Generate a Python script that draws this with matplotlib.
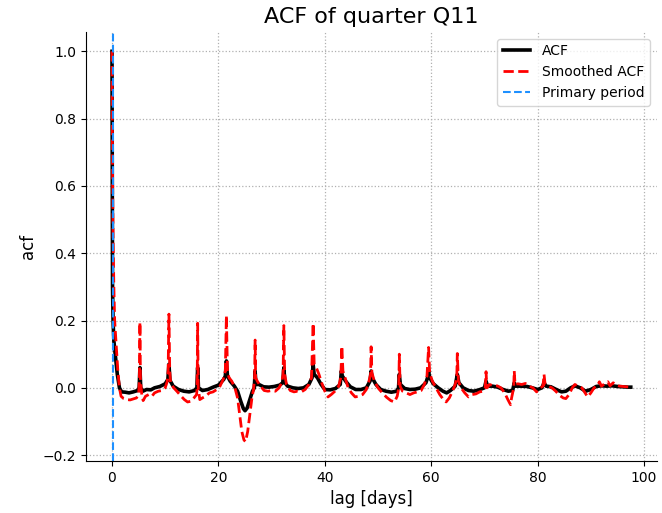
import numpy as np
import matplotlib
matplotlib.use('Agg')
import matplotlib.pyplot as plt

# ACF values (lag in days)
acf_lag = [0.0, 0.05, 0.1, 0.2, 0.35, 0.6, 1.0, 1.4, 1.8, 2.5, 3.2, 4.0, 4.8, 5.1, 5.25, 5.4, 5.8, 6.5, 7.3, 8.0,
           9.0, 10.0, 10.5, 10.7, 10.9, 11.5, 12.5, 13.5, 14.5, 15.5, 15.95, 16.1, 16.25, 17.0, 18.0, 19.0, 20.0,
           21.0, 21.3, 21.5, 21.7, 22.2, 23.0, 23.6, 24.2, 24.7, 25.0, 25.4, 25.9, 26.4, 26.75, 26.9, 27.05, 27.6,
           28.5, 29.5, 30.5, 31.5, 32.1, 32.3, 32.5, 33.0, 34.0, 35.0, 36.0, 37.0, 37.6, 37.8, 38.0, 38.6, 39.3,
           40.0, 41.0, 42.0, 42.9, 43.1, 43.3, 43.9, 44.8, 45.8, 46.8, 47.8, 48.5, 48.7, 48.9, 49.6, 50.5, 51.5,
           52.5, 53.5, 53.85, 54.0, 54.2, 55.0, 56.0, 57.0, 58.0, 59.0, 59.3, 59.5, 59.7, 60.4, 61.3, 62.2, 62.9,
           63.6, 64.5, 64.9, 65.2, 66.0, 67.0, 68.0, 69.0, 70.0, 70.3, 70.6, 71.5, 72.5, 73.5, 74.5, 75.3, 75.6,
           75.9, 76.8, 78.0, 79.0, 80.0, 80.8, 81.2, 81.6, 82.5, 83.5, 84.5, 85.3, 86.2, 87.0, 88.0, 89.0, 90.0,
           91.0, 92.0, 93.0, 94.0, 95.0, 96.0, 97.0, 97.5]
acf_val = [1.0, 0.60, 0.30, 0.20, 0.14, 0.10, 0.04, 0.0, -0.012, -0.013, -0.015, -0.012, -0.008, 0.0, 0.06, 0.0,
           -0.01, -0.005, -0.006, 0.0, 0.004, 0.012, 0.025, 0.07, 0.022, 0.005, -0.005, -0.01, -0.012, -0.008, 0.0,
           0.06, 0.0, -0.008, -0.005, 0.002, 0.008, 0.025, 0.035, 0.08, 0.035, 0.02, 0.005, -0.01, -0.04, -0.062,
           -0.068, -0.06, -0.035, -0.01, 0.0, 0.05, 0.01, 0.01, 0.003, 0.002, 0.004, 0.008, 0.015, 0.06, 0.015,
           0.005, 0.0, -0.002, 0.0, 0.01, 0.03, 0.07, 0.04, 0.03, 0.01, -0.005, -0.006, -0.002, 0.01, 0.05, 0.035,
           0.02, 0.003, -0.005, -0.005, 0.0, 0.02, 0.05, 0.03, 0.01, -0.005, -0.01, -0.013, -0.01, 0.0, 0.04, 0.01,
           -0.002, -0.005, -0.004, 0.0, 0.015, 0.03, 0.05, 0.03, 0.012, 0.0, -0.01, -0.015, -0.008, 0.005, 0.04,
           0.015, 0.0, -0.008, -0.01, -0.006, 0.0, 0.02, 0.005, 0.005, 0.002, -0.005, -0.01, -0.008, 0.015, 0.005,
           0.005, 0.004, 0.0, -0.005, 0.0, 0.015, 0.005, 0.003, -0.005, -0.012, -0.01, 0.0, 0.006, 0.0, -0.01,
           -0.005, 0.004, 0.006, 0.005, 0.006, 0.004, 0.003, 0.002, 0.002]

# smoothed ACF
smooth_lag = [0.0, 0.1, 0.2, 0.35, 0.5, 0.7, 0.9, 1.1, 1.4, 1.7, 2.2, 2.8, 3.4, 4.0, 4.6, 5.0, 5.15, 5.25, 5.35,
              5.6, 5.85, 6.3, 6.9, 7.5, 8.0, 8.7, 9.4, 10.0, 10.4, 10.55, 10.7, 10.85, 11.0, 11.6, 12.3, 13.0,
              13.6, 14.2, 14.8, 15.4, 15.9, 16.0, 16.1, 16.2, 16.5, 17.0, 17.6, 18.3, 19.0, 19.7, 20.3, 20.9,
              21.3, 21.5, 21.7, 22.0, 22.5, 23.1, 23.6, 24.0, 24.4, 24.8, 25.1, 25.5, 25.9, 26.3, 26.6, 26.8,
              26.9, 27.0, 27.3, 27.9, 28.6, 29.3, 30.0, 30.7, 31.4, 31.9, 32.15, 32.3, 32.45, 32.8, 33.5, 34.2,
              34.9, 35.6, 36.3, 37.0, 37.5, 37.8, 38.0, 38.4, 38.9, 39.4, 40.0, 40.6, 41.2, 41.9, 42.6, 43.0,
              43.2, 43.4, 43.8, 44.4, 45.0, 45.7, 46.4, 47.1, 47.8, 48.3, 48.6, 48.7, 48.85, 49.3, 50.0, 50.8,
              51.6, 52.4, 53.1, 53.6, 53.9, 54.0, 54.15, 54.6, 55.3, 56.0, 56.7, 57.4, 58.1, 58.7, 59.2, 59.5,
              59.7, 60.2, 60.9, 61.6, 62.3, 62.8, 63.4, 64.0, 64.5, 64.8, 64.9, 65.1, 65.6, 66.3, 67.0, 67.7,
              68.4, 69.1, 69.8, 70.15, 70.3, 70.45, 71.0, 71.7, 72.4, 73.1, 73.8, 74.4, 74.9, 75.1, 75.5, 75.6,
              75.75, 76.3, 77.0, 77.7, 78.4, 79.1, 79.8, 80.5, 81.0, 81.2, 81.4, 82.0, 82.7, 83.4, 84.1, 84.8,
              85.3, 85.9, 86.5, 87.0, 87.6, 88.3, 88.9, 89.4, 90.0, 90.6, 91.2, 91.6, 92.0, 92.6, 93.2, 93.6,
              94.2, 94.8, 95.4, 96.1, 96.8, 97.5]
smooth_val = [1.0, 0.65, 0.45, 0.3, 0.2, 0.15, 0.1, 0.05, 0.0, -0.025, -0.032, -0.035, -0.036, -0.033, -0.03,
              -0.02, 0.02, 0.195, 0.02, -0.02, -0.038, -0.025, -0.02, -0.025, -0.015, -0.01, -0.008, 0.0, 0.02,
              0.05, 0.219, 0.05, 0.015, 0.0, -0.012, -0.025, -0.035, -0.042, -0.04, -0.03, -0.02, 0.0, 0.192,
              0.0, -0.035, -0.03, -0.025, -0.015, -0.012, -0.005, 0.005, 0.025, 0.05, 0.215, 0.05, 0.03, 0.02,
              0.0, -0.03, -0.08, -0.13, -0.155, -0.16, -0.13, -0.08, -0.03, -0.005, 0.03, 0.142, 0.03, 0.02,
              0.005, -0.008, -0.01, -0.008, -0.01, 0.0, 0.015, 0.04, 0.185, 0.04, 0.01, -0.008, -0.012, -0.01,
              -0.012, -0.005, 0.01, 0.03, 0.192, 0.07, 0.06, 0.04, 0.015, -0.01, -0.027, -0.02, -0.01, 0.005,
              0.03, 0.124, 0.05, 0.03, 0.0, -0.015, -0.027, -0.025, -0.02, -0.005, 0.02, 0.04, 0.122, 0.045,
              0.02, 0.0, -0.015, -0.028, -0.038, -0.042, -0.025, 0.0, 0.1, 0.005, -0.01, -0.015, -0.02, -0.015,
              -0.012, -0.008, 0.01, 0.035, 0.12, 0.045, 0.02, 0.0, -0.02, -0.035, -0.042, -0.03, -0.01, 0.01,
              0.03, 0.102, 0.02, 0.0, -0.015, -0.027, -0.02, -0.018, -0.012, -0.01, 0.0, 0.048, 0.0, 0.01, 0.005,
              0.006, 0.0, -0.015, -0.035, -0.05, -0.03, 0.0, 0.05, 0.01, 0.012, 0.01, 0.013, 0.005, 0.0, -0.012,
              0.0, 0.005, 0.04, 0.01, 0.005, 0.0, -0.01, -0.022, -0.03, -0.032, -0.02, 0.0, 0.01, 0.005, 0.0,
              -0.015, -0.027, -0.015, 0.0, 0.005, 0.018, 0.005, 0.012, 0.018, 0.006, 0.015, 0.008, 0.005, 0.004,
              0.003, 0.002]

primary_period = 0.15

fig, ax = plt.subplots(figsize=(6.62, 5.13), dpi=100)
fig.subplots_adjust(left=0.13, right=0.992, bottom=0.101, top=0.938)

ax.plot(acf_lag, acf_val, color='black', lw=2.6, label='ACF')
ax.plot(smooth_lag, smooth_val, color='red', ls='--', lw=2.0, label='Smoothed ACF')
ax.axvline(primary_period, color='dodgerblue', ls='--', lw=1.5, label='Primary period')

ax.set_title('ACF of quarter Q11', fontsize=16)
ax.set_xlabel('lag [days]', fontsize=12)
ax.set_ylabel('acf', fontsize=12)
ax.grid(True, ls=':', color='#b0b0b0', lw=0.9)
ax.spines['top'].set_visible(False)
ax.spines['right'].set_visible(False)
ax.legend(loc='upper right')

plt.savefig('out.png', dpi=100)
